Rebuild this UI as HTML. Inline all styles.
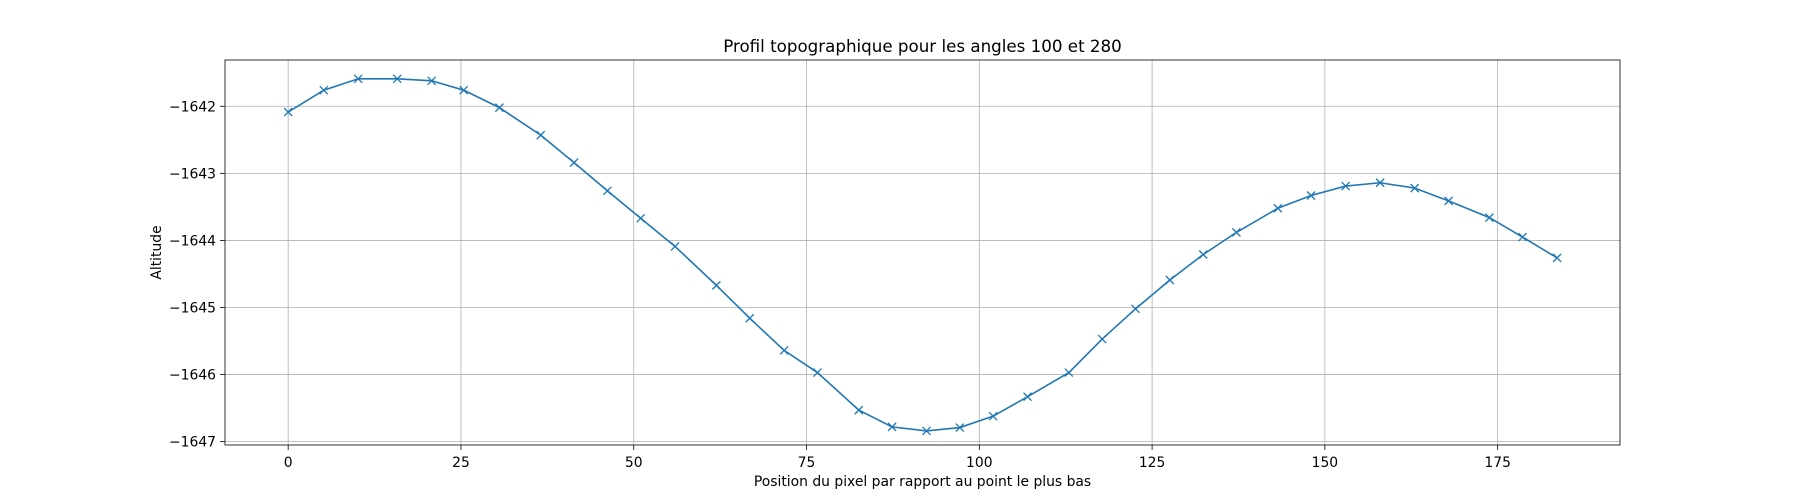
<!DOCTYPE html>
<html><head><meta charset="utf-8">
<style>
html,body{margin:0;padding:0;background:#fff;}
svg{display:block;font-family:"DejaVu Sans","Liberation Sans",sans-serif;}
</style></head>
<body>
<svg id="chart" width="1800" height="500" viewBox="0 0 1800 500"></svg>
<script>
const xValues=[0,5.15,10.13,15.78,20.76,25.4,30.56,36.54,41.36,46.18,51.0,55.98,61.96,66.78,71.76,76.58,82.56,87.38,92.36,97.18,102.0,106.98,112.96,117.78,122.6,127.57,132.4,137.2,143.2,148.0,153.0,158.0,163.0,167.9,173.8,178.6,183.6];
const yValues=[-1642.086,-1641.76,-1641.59,-1641.59,-1641.62,-1641.76,-1642.02,-1642.43,-1642.84,-1643.26,-1643.67,-1644.09,-1644.67,-1645.16,-1645.64,-1645.97,-1646.53,-1646.78,-1646.84,-1646.79,-1646.62,-1646.33,-1645.97,-1645.47,-1645.02,-1644.59,-1644.21,-1643.88,-1643.52,-1643.33,-1643.19,-1643.14,-1643.22,-1643.41,-1643.66,-1643.95,-1644.26];
const xTicks=[0,25,50,75,100,125,150,175];
const yTicks=[-1642,-1643,-1644,-1645,-1646,-1647];
const L=225,R=1620,T=60,B=445;
const X0=-9.14,X1=192.7,Y0=-1647.05,Y1=-1641.31;
const sx=v=>L+(v-X0)/(X1-X0)*(R-L);
const sy=v=>B-(v-Y0)/(Y1-Y0)*(B-T);
const svg=document.getElementById('chart');
const NS='http://www.w3.org/2000/svg';
function mk(tag,attrs,parent){const e=document.createElementNS(NS,tag);for(const k in attrs)e.setAttribute(k,attrs[k]);(parent||svg).appendChild(e);return e;}
xTicks.forEach(t=>{const x=sx(t);
 const g=mk('line',{x1:x,x2:x,y1:T,y2:B,stroke:'#b0b0b0','stroke-width':0.8});
 
 
 const tk=mk('line',{x1:x,x2:x,y1:B,y2:B+5,stroke:'#000','stroke-width':0.8});
 
 
 const tx=mk('text',{x:x,y:B+22,'text-anchor':'middle','font-size':13.9});tx.textContent=t;
 
 
});
yTicks.forEach(t=>{const y=sy(t);
 const g=mk('line',{x1:L,x2:R,y1:y,y2:y,stroke:'#b0b0b0','stroke-width':0.8});
 
 
 const tk=mk('line',{x1:L-5,x2:L,y1:y,y2:y,stroke:'#000','stroke-width':0.8});
 
 
 const tx=mk('text',{x:L-9,y:y+5,'text-anchor':'end','font-size':13.9});tx.textContent='\u2212'+Math.abs(t);
 
 
});
const pts=xValues.map((v,i)=>sx(v)+','+sy(yValues[i])).join(' ');
const pl=mk('polyline',{points:pts,fill:'none',stroke:'#1f77b4','stroke-width':1.6});


xValues.forEach((v,i)=>{const x=sx(v),y=sy(yValues[i]),d=4;
 const m=mk('path',{d:`M${x-d},${y-d}L${x+d},${y+d}M${x-d},${y+d}L${x+d},${y-d}`,stroke:'#1f77b4','stroke-width':1.3});
 
 
});
const fr=mk('rect',{x:L,y:T,width:R-L,height:B-T,fill:'none',stroke:'#000','stroke-width':0.8});


const ti=mk('text',{x:(L+R)/2,y:52,'text-anchor':'middle','font-size':16.7});ti.textContent='Profil topographique pour les angles 100 et 280';


const xl=mk('text',{x:(L+R)/2,y:486,'text-anchor':'middle','font-size':13.9});xl.textContent='Position du pixel par rapport au point le plus bas';


const yl=mk('text',{x:0,y:0,'text-anchor':'middle','font-size':13.9,transform:`translate(161,${(T+B)/2}) rotate(-90)`});yl.textContent='Altitude';


</script>
</body></html>
